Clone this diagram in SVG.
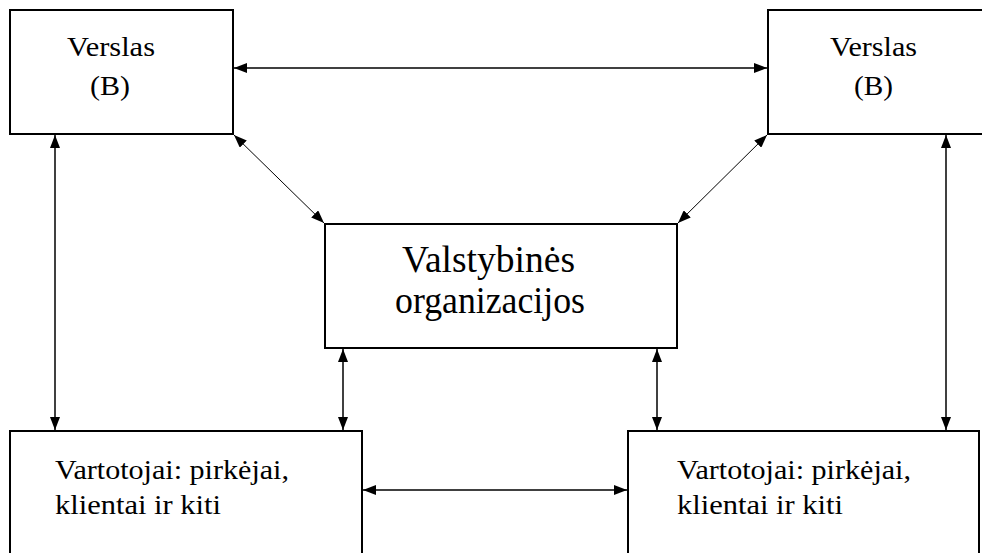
<svg xmlns="http://www.w3.org/2000/svg" width="982" height="553" viewBox="0 0 982 553">
<style>
.box{fill:#fff;stroke:#000;stroke-width:2}
.t{font-family:"Liberation Serif","Times New Roman",serif;font-size:28px;fill:#000}
.tm{font-family:"Liberation Serif","Times New Roman",serif;font-size:37px;fill:#000}
.c{stroke:#000;stroke-width:1.5;fill:none;marker-start:url(#ah);marker-end:url(#ah)}
.d{stroke:#000;stroke-width:1;fill:none;marker-start:url(#ah);marker-end:url(#ah)}
</style>
<defs>
<marker id="ah" viewBox="0 0 13 10" refX="13" refY="5" markerWidth="13" markerHeight="10" markerUnits="userSpaceOnUse" orient="auto-start-reverse">
<path d="M0,0 L13,5 L0,10 Z" fill="#000"/>
</marker>
</defs>
<rect width="982" height="553" fill="#fff"/>
<g id="connectors">
<line class="c" x1="234" y1="68" x2="767" y2="68"/>
<line class="c" x1="55" y1="135" x2="55" y2="430"/>
<line class="c" x1="946" y1="135" x2="946" y2="430"/>
<line class="c" x1="343" y1="349" x2="343" y2="430"/>
<line class="c" x1="657" y1="349" x2="657" y2="430"/>
<line class="c" x1="363" y1="490" x2="627" y2="490"/>
<line class="d" x1="234" y1="135" x2="324" y2="223"/>
<line class="d" x1="767" y1="135" x2="678" y2="223"/>
</g>
<g id="verslas-left">
<rect class="box" x="10" y="10" width="223" height="124"/>
<text class="t" x="67" y="56" textLength="88" lengthAdjust="spacingAndGlyphs">Verslas</text>
<text class="t" x="90" y="95" textLength="40" lengthAdjust="spacingAndGlyphs">(B)</text>
</g>
<g id="verslas-right">
<rect class="box" x="768" y="10" width="230" height="124"/>
<text class="t" x="830" y="56" textLength="87" lengthAdjust="spacingAndGlyphs">Verslas</text>
<text class="t" x="854" y="95" textLength="39" lengthAdjust="spacingAndGlyphs">(B)</text>
</g>
<g id="valstybines">
<rect class="box" x="325" y="224" width="352" height="124"/>
<text class="tm" x="402" y="272" textLength="173" lengthAdjust="spacingAndGlyphs">Valstybinės</text>
<text class="tm" x="395" y="313" textLength="190" lengthAdjust="spacingAndGlyphs">organizacijos</text>
</g>
<g id="vartotojai-left">
<rect class="box" x="10" y="431" width="352" height="130"/>
<text class="t" x="55" y="479" textLength="234" lengthAdjust="spacingAndGlyphs">Vartotojai: pirkėjai,</text>
<text class="t" x="55" y="514" textLength="166" lengthAdjust="spacingAndGlyphs">klientai ir kiti</text>
</g>
<g id="vartotojai-right">
<rect class="box" x="628" y="431" width="351" height="130"/>
<text class="t" x="677" y="479" textLength="234" lengthAdjust="spacingAndGlyphs">Vartotojai: pirkėjai,</text>
<text class="t" x="677" y="514" textLength="166" lengthAdjust="spacingAndGlyphs">klientai ir kiti</text>
</g>
</svg>
